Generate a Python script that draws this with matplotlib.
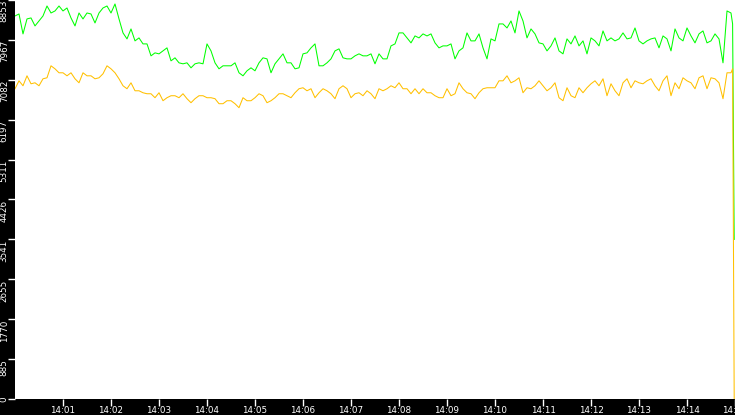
import numpy as np
import matplotlib
matplotlib.use("Agg")
import matplotlib.pyplot as plt
import matplotlib.dates as mdates

# samples every 5 s from 14:00:00, plus the last two readings before the drop
secs = np.append(np.arange(0, 900, 5), [897, 899])
start = np.datetime64("2000-01-01T14:00:00")
times = start + secs.astype("timedelta64[s]")

green = [
    8499, 8543, 8101, 8433, 8455, 8278, 8388, 8499, 8720, 8565,
    8610, 8720, 8610, 8676, 8455, 8278, 8565, 8433, 8565, 8543,
    8344, 8565, 8676, 8720, 8565, 8765, 8433, 8123, 7990, 8211,
    7946, 8012, 7879, 7879, 7614, 7680, 7658, 7724, 7791, 7503,
    7570, 7459, 7437, 7459, 7348, 7437, 7459, 7437, 7879, 7724,
    7459, 7326, 7393, 7393, 7393, 7459, 7238, 7171, 7282, 7348,
    7282, 7459, 7570, 7547, 7238, 7437, 7547, 7658, 7459, 7459,
    7326, 7348, 7658, 7680, 7791, 7879, 7393, 7393, 7459, 7547,
    7724, 7769, 7570, 7547, 7547, 7614, 7658, 7614, 7614, 7658,
    7437, 7658, 7547, 7547, 7835, 7879, 8123, 8123, 8012, 7902,
    8056, 8012, 8101, 8056, 8101, 7902, 7791, 7835, 7835, 7879,
    7547, 7724, 7791, 8123, 7946, 7946, 8101, 7791, 7547, 7990,
    7946, 8322, 8322, 8233, 8388, 8123, 8610, 8388, 8012, 8211,
    8101, 7902, 7879, 7724, 7835, 8012, 7724, 7658, 7990, 7879,
    8056, 7835, 7946, 7658, 8012, 7946, 7835, 8167, 7946, 8012,
    7946, 7990, 8123, 7990, 8012, 8233, 7946, 7879, 7946, 7990,
    8012, 7791, 8056, 7990, 7724, 8211, 8012, 7946, 8233, 8056,
    7902, 8101, 8167, 7902, 7946, 8101, 7990, 7459, 8610, 8565,
    8322, 3541,
]

orange = [
    6884, 7060, 6950, 7171, 6994, 7016, 6950, 7105, 7127, 7393,
    7326, 7238, 7238, 7171, 7238, 7105, 7016, 7238, 7171, 7171,
    7105, 7127, 7216, 7393, 7326, 7238, 7105, 6950, 6884, 7016,
    6839, 6839, 6795, 6773, 6773, 6685, 6795, 6618, 6685, 6729,
    6729, 6685, 6773, 6663, 6574, 6663, 6729, 6729, 6685, 6685,
    6663, 6552, 6552, 6618, 6618, 6552, 6463, 6685, 6618, 6618,
    6685, 6773, 6729, 6574, 6618, 6685, 6773, 6773, 6729, 6685,
    6795, 6884, 6906, 6839, 6884, 6685, 6795, 6884, 6839, 6773,
    6663, 6884, 6950, 6884, 6685, 6773, 6795, 6729, 6839, 6773,
    6663, 6884, 6839, 6884, 6950, 6906, 7016, 6884, 6884, 6773,
    6884, 6773, 6884, 6795, 6795, 6729, 6685, 6685, 6884, 6729,
    6773, 7016, 6884, 6795, 6773, 6663, 6795, 6884, 6906, 6906,
    6906, 7060, 7060, 7171, 7016, 7060, 7127, 6795, 6906, 6884,
    6950, 7060, 6950, 6839, 6906, 7016, 6685, 6618, 6906, 6729,
    6685, 6906, 6795, 6906, 6994, 7060, 6950, 7105, 6729, 6994,
    6839, 6729, 7016, 7105, 6906, 7060, 7016, 6994, 7060, 7105,
    6950, 6839, 7060, 7171, 6729, 7016, 6884, 7127, 7060, 7016,
    6884, 7127, 7171, 6884, 7127, 7105, 7016, 6663, 7238, 7238,
    7326, 0,
]

y_max = 8853
y_labels = ["0", "885", "1770", "2655", "3541", "4426",
            "5311", "6197", "7082", "7967", "8853"]

fig = plt.figure(figsize=(7.35, 4.15), dpi=100, facecolor="black")
ax = fig.add_axes([15 / 735, 16 / 415, 720 / 735, 399 / 415])
ax.set_facecolor("white")

ax.plot(times, green, color="#00ff00", lw=0.75)
ax.plot(times, orange, color="#ffc000", lw=0.75)

ax.set_xlim(start, start + np.timedelta64(900, "s"))
ax.set_ylim(0, y_max)

ax.xaxis.set_major_locator(mdates.MinuteLocator(byminute=range(1, 16)))
ax.xaxis.set_major_formatter(mdates.DateFormatter("%H:%M"))

ax.set_yticks(np.linspace(0, y_max, len(y_labels)))
ax.set_yticklabels(y_labels, rotation=90, va="top")
ax.get_yticklabels()[0].set_va("center")

for s in ax.spines.values():
    s.set_visible(False)

ax.tick_params(axis="x", colors="white", length=5, width=1, pad=0,
               labelsize=6.3)
ax.tick_params(axis="y", colors="white", length=5, width=1, pad=-0.5,
               labelsize=6.3)

fig.savefig("out.png", dpi=100, facecolor="black")
